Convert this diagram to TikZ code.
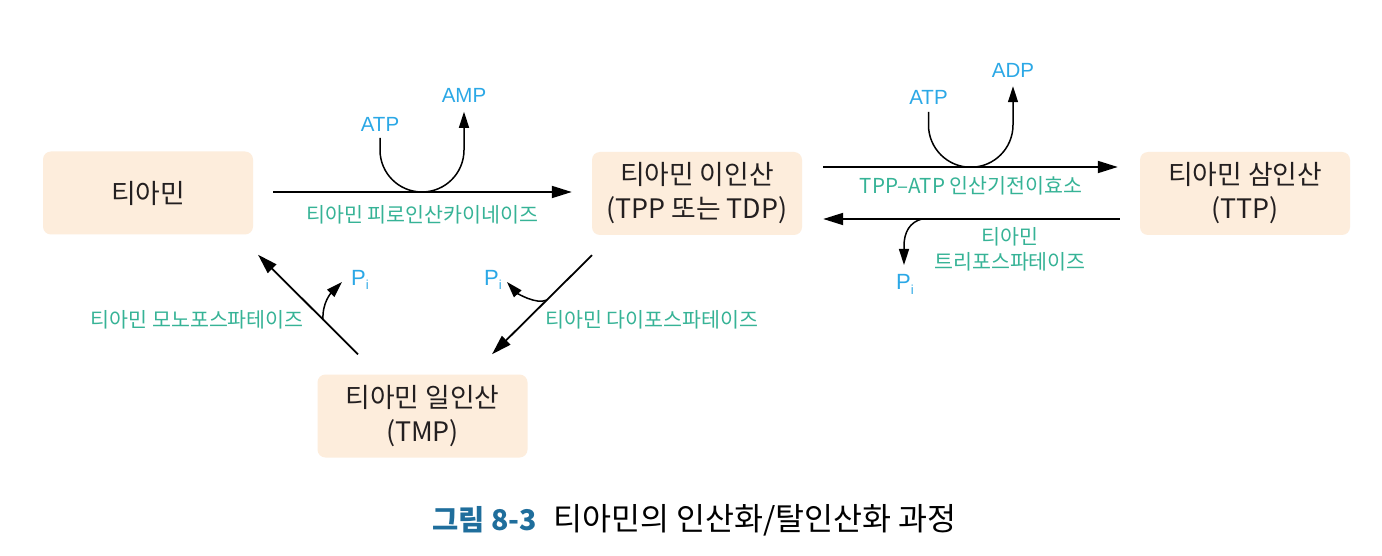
\documentclass[tikz,border=0pt]{standalone}
\usepackage{fontspec}
\setmainfont{Noto Sans CJK KR}
\newfontfamily\latinfont{Liberation Sans}
\usetikzlibrary{arrows.meta}
\definecolor{boxfill}{HTML}{FDEDDC}
\definecolor{lblue}{HTML}{2BA8E6}
\definecolor{lgreen}{HTML}{36B396}
\definecolor{capblue}{HTML}{1F6E9C}
\definecolor{txt}{HTML}{231F20}
\newcommand{\Pisub}{{\fontsize{22}{22}\selectfont P}\raisebox{-5pt}{\fontsize{13}{13}\selectfont i}}
\begin{document}
\begin{tikzpicture}[x=1pt,y=-1pt,
  cbox/.style={fill=boxfill, rounded corners=8pt, minimum width=210pt, minimum height=83pt, inner sep=0pt, align=center, font=\fontsize{26.8}{34}\selectfont, text=txt},
  mol/.style={text=lblue, font=\latinfont\fontsize{20.5}{22}\selectfont, inner sep=0pt},
  enz/.style={text=lgreen, font=\fontsize{20.6}{24.5}\selectfont, inner sep=0pt, align=center},
  mainarr/.style={line width=1.8pt, -{Triangle[length=20pt,width=12pt]}},
  sidearr/.style={line width=1.5pt, -{Triangle[length=16pt,width=10pt]}},
  captionstyle/.style={inner sep=0pt},
]
\fill[white] (0,0) rectangle (1382,556);
\useasboundingbox (0,0) rectangle (1382,556);

% boxes
\node[cbox] (thi) at (148,193) {티아민};
\node[cbox] (tpp) at (697,193.5) {티아민 이인산\\(TPP 또는 TDP)};
\node[cbox] (ttp) at (1245,193.5) {티아민 삼인산\\(TTP)};
\node[cbox] (tmp) at (422.5,416) {티아민 일인산\\(TMP)};

% molecule labels
\node[mol] (atp1) at (380,124.5) {ATP};
\node[mol] (amp1) at (464,95.5) {AMP};
\node[mol] (atp2) at (928.5,97.5) {ATP};
\node[mol] (adp2) at (1013,70) {ADP};
\node[mol, anchor=base west] (pi1) at (351,285) {\Pisub};
\node[mol, anchor=base west] (pi2) at (484,285) {\Pisub};
\node[mol, anchor=base west] (pi3) at (896,290) {\Pisub};

% enzyme labels
\node[enz] (e1) at (422.5,214.5) {티아민 피로인산카이네이즈};
\node[enz] (e2) at (971,185.5) {TPP--ATP 인산기전이효소};
\node[enz] (e3) at (1010,249.5) {티아민\\트리포스파테이즈};
\node[enz, anchor=east] (e4) at (304,319.5) {티아민 모노포스파테이즈};
\node[enz, anchor=west] (e5) at (545,319.5) {티아민 다이포스파테이즈};

% main arrows
\draw[mainarr] ([shift={(20,-1)}]thi.east) -- ([shift={(-20,-1.5)}]tpp.west);
\draw[mainarr] ([shift={(21,-26.5)}]tpp.east) -- ([shift={(-22,-26.5)}]ttp.west);
\draw[mainarr] ([shift={(-20,25.5)}]ttp.west) -- ([shift={(21,25.5)}]tpp.east);
\draw[mainarr] ([shift={(-64.5,-20)}]tmp.north) -- ([shift={(110,20)}]thi.south);
\draw[mainarr] ([shift={(-105,20)}]tpp.south) -- ([shift={(69.5,-20)}]tmp.north);

% ATP -> AMP
\coordinate (b1) at (422,192);
\draw[sidearr] ([yshift=-6pt]atp1.south) -- (380,150)
  .. controls (380,173.2) and (398.8,192) .. (b1)
  .. controls (445.2,192) and (464,173.2) .. (464,150)
  -- ([yshift=-9pt]amp1.south);

% ATP -> ADP
\coordinate (b2) at (970.75,167.25);
\draw[sidearr] ([yshift=-7pt]atp2.south) -- (928.5,125)
  .. controls (928.5,148.3) and (947.4,167.25) .. (b2)
  .. controls (994.1,167.25) and (1013,148.3) .. (1013,125)
  -- ([yshift=-9pt]adp2.south);

% Pi branches
\coordinate (s1) at (323,320);
\coordinate (t1) at (342,282);
\draw[sidearr] (s1) .. controls (322,303) and (331,293) .. (t1);
\coordinate (s2) at (547,300);
\coordinate (t2) at (507,282);
\draw[sidearr] (s2) .. controls (536,305) and (517,293) .. (t2);
\coordinate (s3) at (922,219);
\coordinate (t3) at (904,265);
\draw[sidearr] (s3) .. controls (910,222) and (904,232) .. (904,246) -- (t3);

% caption
\node[captionstyle, anchor=west, text=capblue, font=\fontsize{28.5}{30}\selectfont\bfseries] (capn) at (432,520) {그림 8-3};
\node[captionstyle, anchor=west, text=black, font=\fontsize{31.5}{33}\selectfont] (capt) at (553,520) {티아민의 인산화/탈인산화 과정};
\end{tikzpicture}
\end{document}
